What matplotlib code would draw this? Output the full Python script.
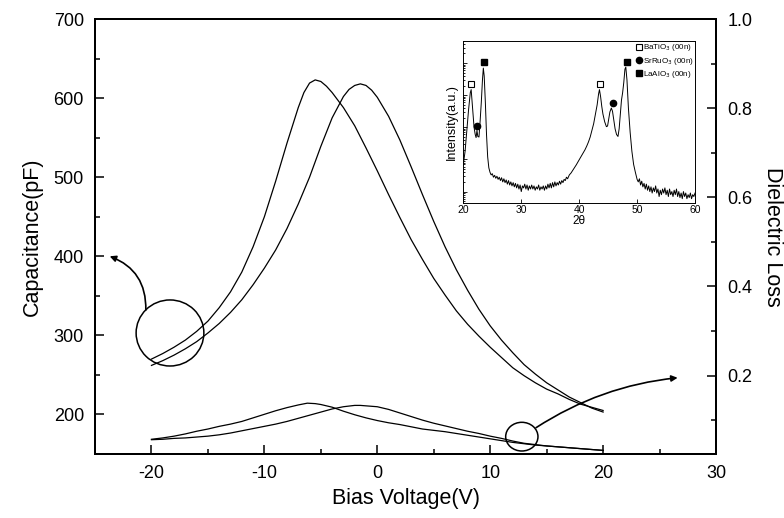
import numpy as np
import matplotlib.pyplot as plt
from matplotlib.patches import Ellipse
from matplotlib.lines import Line2D
from matplotlib.ticker import MultipleLocator, LogLocator, NullFormatter

plt.rcParams['font.family'] = ['Liberation Sans', 'DejaVu Sans']
plt.rcParams['axes.unicode_minus'] = False

# Capacitance (pF) vs bias voltage, two sweep directions
v_cap1 = [-20, -19, -18, -17, -16, -15, -14, -13, -12, -11, -10, -9, -8, -7, -6.5, -6, -5.5, -5, -4.5, -4,
          -3, -2, -1, 0, 1, 2, 3, 4, 5, 6, 7, 8, 9, 10, 11, 12, 13, 14, 15, 16, 17, 18, 19, 20]
cap1 = [270, 277, 285, 294, 305, 318, 335, 355, 380, 412, 450, 495, 543, 588, 607, 619, 623, 621, 615, 607,
        588, 565, 537, 508, 478, 449, 421, 396, 372, 351, 331, 314, 299, 285, 272, 259, 249, 240, 232, 226, 219, 213, 209, 205]
v_cap2 = [-20, -19, -18, -17, -16, -15, -14, -13, -12, -11, -10, -9, -8, -7, -6, -5, -4, -3, -2.5, -2, -1.5, -1,
          -0.5, 0, 1, 2, 3, 4, 5, 6, 7, 8, 9, 10, 11, 12, 13, 14, 15, 16, 17, 18, 19, 20]
cap2 = [262, 268, 275, 283, 292, 303, 315, 329, 345, 364, 385, 408, 435, 466, 500, 539, 575, 602, 611, 616, 618, 616,
        610, 601, 577, 547, 513, 478, 444, 412, 383, 357, 333, 312, 294, 278, 263, 251, 240, 231, 222, 215, 208, 203]

# Dielectric loss vs bias voltage
v_loss1 = [-20, -19, -18, -17, -16, -15, -14, -13, -12, -11, -10, -9, -8, -7, -6.2, -5.5, -5, -4, -3, -2, -1,
           0, 1, 2, 3, 4, 5, 6, 7, 8, 9, 10, 11, 12, 13, 14, 15, 16, 17, 18, 19, 20]
loss1 = [0.057, 0.060, 0.064, 0.069, 0.075, 0.080, 0.086, 0.091, 0.097, 0.105, 0.113, 0.121, 0.128, 0.134, 0.138,
         0.137, 0.135, 0.129, 0.120, 0.112, 0.105, 0.099, 0.094, 0.090, 0.085, 0.080, 0.077, 0.074, 0.070, 0.066,
         0.062, 0.058, 0.054, 0.050, 0.047, 0.044, 0.042, 0.040, 0.038, 0.036, 0.034, 0.032]
v_loss2 = [-20, -19, -18, -17, -16, -15, -14, -13, -12, -11, -10, -9, -8, -7, -6, -5, -4, -3, -2, -1.5, -1,
           0, 1, 2, 3, 4, 5, 6, 7, 8, 9, 10, 11, 12, 13, 14, 15, 16, 17, 18, 19, 20]
loss2 = [0.056, 0.057, 0.059, 0.060, 0.062, 0.064, 0.067, 0.071, 0.076, 0.081, 0.086, 0.091, 0.097, 0.104, 0.111,
         0.118, 0.125, 0.130, 0.133, 0.133, 0.132, 0.130, 0.124, 0.116, 0.108, 0.100, 0.093, 0.087, 0.081, 0.075,
         0.070, 0.064, 0.059, 0.053, 0.048, 0.045, 0.042, 0.040, 0.038, 0.036, 0.034, 0.032]

# XRD inset: 2theta and intensity (a.u.)
two_theta = [20.0, 20.3, 20.6, 20.9, 21.2, 21.35, 21.6, 21.85, 22.05, 22.2, 22.35, 22.5, 22.7, 22.9,
             23.1, 23.3, 23.45, 23.6, 23.8, 24.0, 24.2, 24.4, 24.6,
             24.8, 25.0, 25.2, 25.4, 25.6, 25.8, 26.0, 26.2, 26.4, 26.6, 26.8, 27.0, 27.2, 27.4, 27.6, 27.8,
             28.0, 28.2, 28.4, 28.6, 28.8, 29.0, 29.2, 29.4, 29.6, 29.8, 30.0, 30.2, 30.4, 30.6, 30.8,
             31.0, 31.2, 31.4, 31.6, 31.8, 32.0, 32.2, 32.4, 32.6, 32.8, 33.0, 33.2, 33.4, 33.6, 33.8,
             34.0, 34.2, 34.4, 34.6, 34.8, 35.0, 35.2, 35.4, 35.6, 35.8, 36.0, 36.2, 36.4, 36.6, 36.8,
             37.0, 37.2, 37.4, 37.6, 37.8, 38.0, 38.3, 38.6, 38.9, 39.2, 39.5, 39.8, 40.1, 40.4, 40.7,
             41.0, 41.3, 41.6, 41.9, 42.2, 42.5, 42.8, 43.1, 43.35, 43.5, 43.7, 43.9, 44.1, 44.4, 44.7,
             44.9, 45.1, 45.3, 45.55, 45.75, 46.0, 46.2, 46.45, 46.7, 46.9, 47.1, 47.3, 47.5, 47.7, 47.9,
             48.05, 48.25, 48.5, 48.8, 49.1, 49.4, 49.7, 50.0,
             50.2, 50.4, 50.6, 50.8, 51.0, 51.2, 51.4, 51.6, 51.8, 52.0, 52.2, 52.4, 52.6, 52.8, 53.0,
             53.2, 53.4, 53.6, 53.8, 54.0, 54.2, 54.4, 54.6, 54.8, 55.0, 55.2, 55.4, 55.6, 55.8, 56.0,
             56.2, 56.4, 56.6, 56.8, 57.0, 57.2, 57.4, 57.6, 57.8, 58.0, 58.2, 58.4, 58.6, 58.8, 59.0,
             59.2, 59.4, 59.6, 59.8, 60.0]
intensity = [70, 180, 800, 3500, 12000, 15000, 4000, 1000, 600, 480, 800, 520, 500, 1600,
             6000, 30000, 70000, 40000, 6000, 600, 120, 55, 40,
             33, 36, 28, 32, 26, 30, 24, 28, 22, 27, 20, 25, 19, 23, 17, 22,
             16, 20, 15, 19, 14, 18, 13, 17, 12, 16, 10, 15, 13, 17, 12,
             16, 11, 15, 12, 16, 12, 15, 11, 14, 12, 16, 11, 14, 12, 15,
             11, 15, 12, 17, 13, 18, 13, 19, 14, 20, 15, 19, 16, 21, 17,
             22, 19, 24, 22, 28, 25, 33, 38, 46, 55, 68, 85, 105, 130, 160,
             200, 260, 350, 500, 800, 1300, 2500, 5000, 11000, 15000, 9000, 4500, 2600, 1500, 1050,
             1100, 1800, 3000, 4000, 3200, 1600, 900, 600, 520, 900, 2500, 7000, 12000, 25000, 65000,
             75000, 30000, 4000, 700, 180, 70, 40, 24,
             20, 25, 16, 21, 14, 18, 12, 17, 11, 15, 10, 14, 9, 13, 10,
             15, 9, 12, 7, 11, 8, 12, 9, 13, 8, 11, 7, 12, 8, 10,
             7, 11, 8, 12, 7, 10, 6.5, 9, 6, 10, 7, 9, 6, 8, 6.5,
             9, 6, 8, 7, 9]

bto_x, bto_y = [21.3, 43.6], [22000, 22000]
sro_x, sro_y = [22.3, 45.8], [1100, 5600]
lao_x, lao_y = [23.6, 48.3], [107000, 107000]

fig = plt.figure(figsize=(7.84, 5.18), dpi=100)
ax = fig.add_axes([0.1212, 0.1236, 0.7921, 0.8397])
ax2 = ax.twinx()

ax.plot(v_cap1, cap1, color='black', lw=0.9)
ax.plot(v_cap2, cap2, color='black', lw=0.9)
ax2.plot(v_loss1, loss1, color='black', lw=0.9)
ax2.plot(v_loss2, loss2, color='black', lw=0.9)

ax.set_xlim(-25, 30)
ax.set_ylim(150, 700)
ax2.set_ylim(0.024, 1.0)
ax.xaxis.set_major_locator(MultipleLocator(10))
ax.xaxis.set_minor_locator(MultipleLocator(5))
ax.yaxis.set_minor_locator(MultipleLocator(50))
ax2.yaxis.set_minor_locator(MultipleLocator(0.1))
ax.set_yticks(range(200, 701, 100))
ax2.set_yticks([0.2, 0.4, 0.6, 0.8, 1.0])

for a in (ax, ax2):
    for s in a.spines.values():
        s.set_linewidth(1.4)
    a.tick_params(which='both', direction='in', width=1.1, labelsize=13, pad=8)
    a.tick_params(which='major', length=6.5)
    a.tick_params(which='minor', length=3.6)

ax.set_xlabel('Bias Voltage(V)', fontsize=15.5, labelpad=4)
ax.set_ylabel('Capacitance(pF)', fontsize=15.5, labelpad=8)
ax2.set_ylabel('Dielectric Loss', fontsize=15.5, rotation=270, labelpad=22)

# circles and arrows marking which axis each curve pair uses
ax.add_patch(Ellipse((-18.36, 303), 6.0, 83.5, fill=False, lw=1.1, color='black'))
ax.add_patch(Ellipse((12.8, 171.9), 2.86, 36.3, fill=False, lw=1.1, color='black'))
ax.annotate('', xy=(-23.7, 400), xytext=(-20.5, 332),
            arrowprops=dict(arrowstyle='-|>', connectionstyle='arc3,rad=0.35', lw=1.2,
                            color='black', mutation_scale=9, shrinkA=0, shrinkB=0))
ax2.annotate('', xy=(26.6, 0.195), xytext=(14.06, 0.083),
             arrowprops=dict(arrowstyle='-|>', connectionstyle='arc3,rad=-0.12', lw=1.2,
                             color='black', mutation_scale=9, shrinkA=0, shrinkB=0))

# inset XRD pattern
ins = fig.add_axes([0.591, 0.6087, 0.2955, 0.3127])
ins.plot(two_theta, intensity, color='black', lw=0.7)
ins.plot(bto_x, bto_y, 's', ms=4.5, mfc='white', mec='black', mew=0.8)
ins.plot(sro_x, sro_y, 'o', ms=4.5, color='black')
ins.plot(lao_x, lao_y, 's', ms=4.5, color='black')
ins.set_yscale('log')
ins.set_xlim(20, 60)
ins.set_ylim(4.5, 5e5)
ins.set_xticks([20, 30, 40, 50, 60])
ins.yaxis.set_major_locator(LogLocator(base=10, numticks=10))
ins.yaxis.set_minor_locator(LogLocator(base=10, subs=np.arange(2, 10), numticks=10))
ins.yaxis.set_major_formatter(NullFormatter())
ins.yaxis.set_minor_formatter(NullFormatter())
ins.tick_params(which='both', direction='in', labelsize=7.5, pad=2, width=0.6)
ins.tick_params(which='major', length=3)
ins.tick_params(which='minor', length=1.5)
for s in ins.spines.values():
    s.set_linewidth(0.7)
ins.set_xlabel('2θ', fontsize=8.5, labelpad=0)
ins.set_ylabel('Intensity(a.u.)', fontsize=9, labelpad=2)

handles = [Line2D([], [], ls='none', marker='s', ms=4.5, mfc='white', mec='black', mew=0.8),
           Line2D([], [], ls='none', marker='o', ms=4.5, color='black'),
           Line2D([], [], ls='none', marker='s', ms=4.5, color='black')]
labels = ['BaTiO$_3$ (00n)', 'SrRuO$_3$ (00n)', 'LaAlO$_3$ (00n)']
ins.legend(handles, labels, loc='upper right', fontsize=5.8, frameon=False,
           handlelength=0.5, handletextpad=0.25, labelspacing=0.3, borderaxespad=0.1,
           borderpad=0.1)

plt.savefig('out.png', dpi=100)
